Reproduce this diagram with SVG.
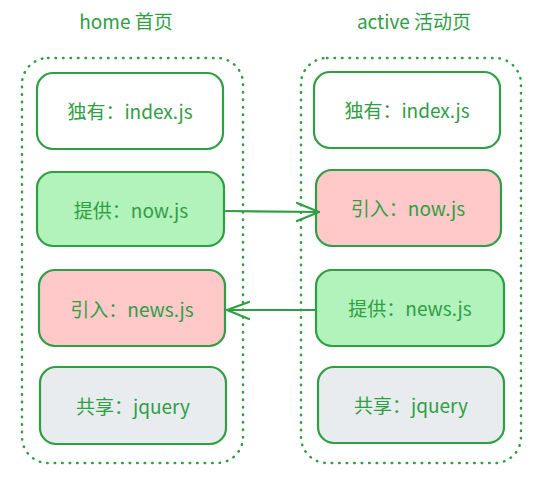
<svg xmlns="http://www.w3.org/2000/svg" width="554" height="484" viewBox="0 0 554 484">
<defs>
<style>
.t{font-family:"Noto Sans CJK SC","Noto Sans",sans-serif;font-size:19px;fill:#2f9e44;text-anchor:middle;dominant-baseline:central}
.grp{fill:none;stroke:#2f9e44;stroke-width:2.5;stroke-dasharray:0.5 7;stroke-linecap:round}
.box{stroke:#2f9e44;stroke-width:2.2}
.w{fill:#ffffff}.g{fill:#b2f2bb}.p{fill:#ffc9c9}.s{fill:#e9ecef}
.ln{fill:none;stroke:#2f9e44;stroke-width:2.2;stroke-linecap:round;stroke-linejoin:round}
</style>
</defs>
<rect width="554" height="484" fill="#ffffff"/>
<text class="t" x="126" y="20">home 首页</text>
<text class="t" x="414" y="20">active 活动页</text>
<g id="home-group"><rect class="grp" x="22" y="58" width="221" height="405" rx="26"/></g>
<g id="active-group"><rect class="grp" x="301" y="58" width="220" height="405" rx="26"/></g>
<g id="home-index"><rect class="box w" x="37" y="73" width="186" height="76" rx="16"/><text class="t" x="130" y="110">独有：index.js</text></g>
<g id="home-now"><rect class="box g" x="37" y="172" width="187" height="74" rx="16"/><text class="t" x="131" y="209">提供：now.js</text></g>
<g id="home-news"><rect class="box p" x="39" y="270" width="186" height="76" rx="16"/><text class="t" x="132" y="308">引入：news.js</text></g>
<g id="home-jquery"><rect class="box s" x="40" y="367" width="186" height="77" rx="16"/><text class="t" x="133" y="405">共享：jquery</text></g>
<g id="active-index"><rect class="box w" x="314" y="72" width="186" height="76" rx="16"/><text class="t" x="407" y="109">独有：index.js</text></g>
<g id="active-now"><rect class="box p" x="316" y="170" width="185" height="76" rx="16"/><text class="t" x="408" y="207">引入：now.js</text></g>
<g id="active-news"><rect class="box g" x="316" y="270" width="188" height="76" rx="16"/><text class="t" x="410" y="307">提供：news.js</text></g>
<g id="active-jquery"><rect class="box s" x="318" y="367" width="186" height="76" rx="16"/><text class="t" x="411" y="404">共享：jquery</text></g>
<g id="connectors">
<path class="ln" d="M226 211 L319 212"/>
<path class="ln" d="M297 203 L319 212 L297 221"/>
<path class="ln" d="M316 310 L227 310"/>
<path class="ln" d="M249 302 L227 310 L249 319"/>
</g>
</svg>
